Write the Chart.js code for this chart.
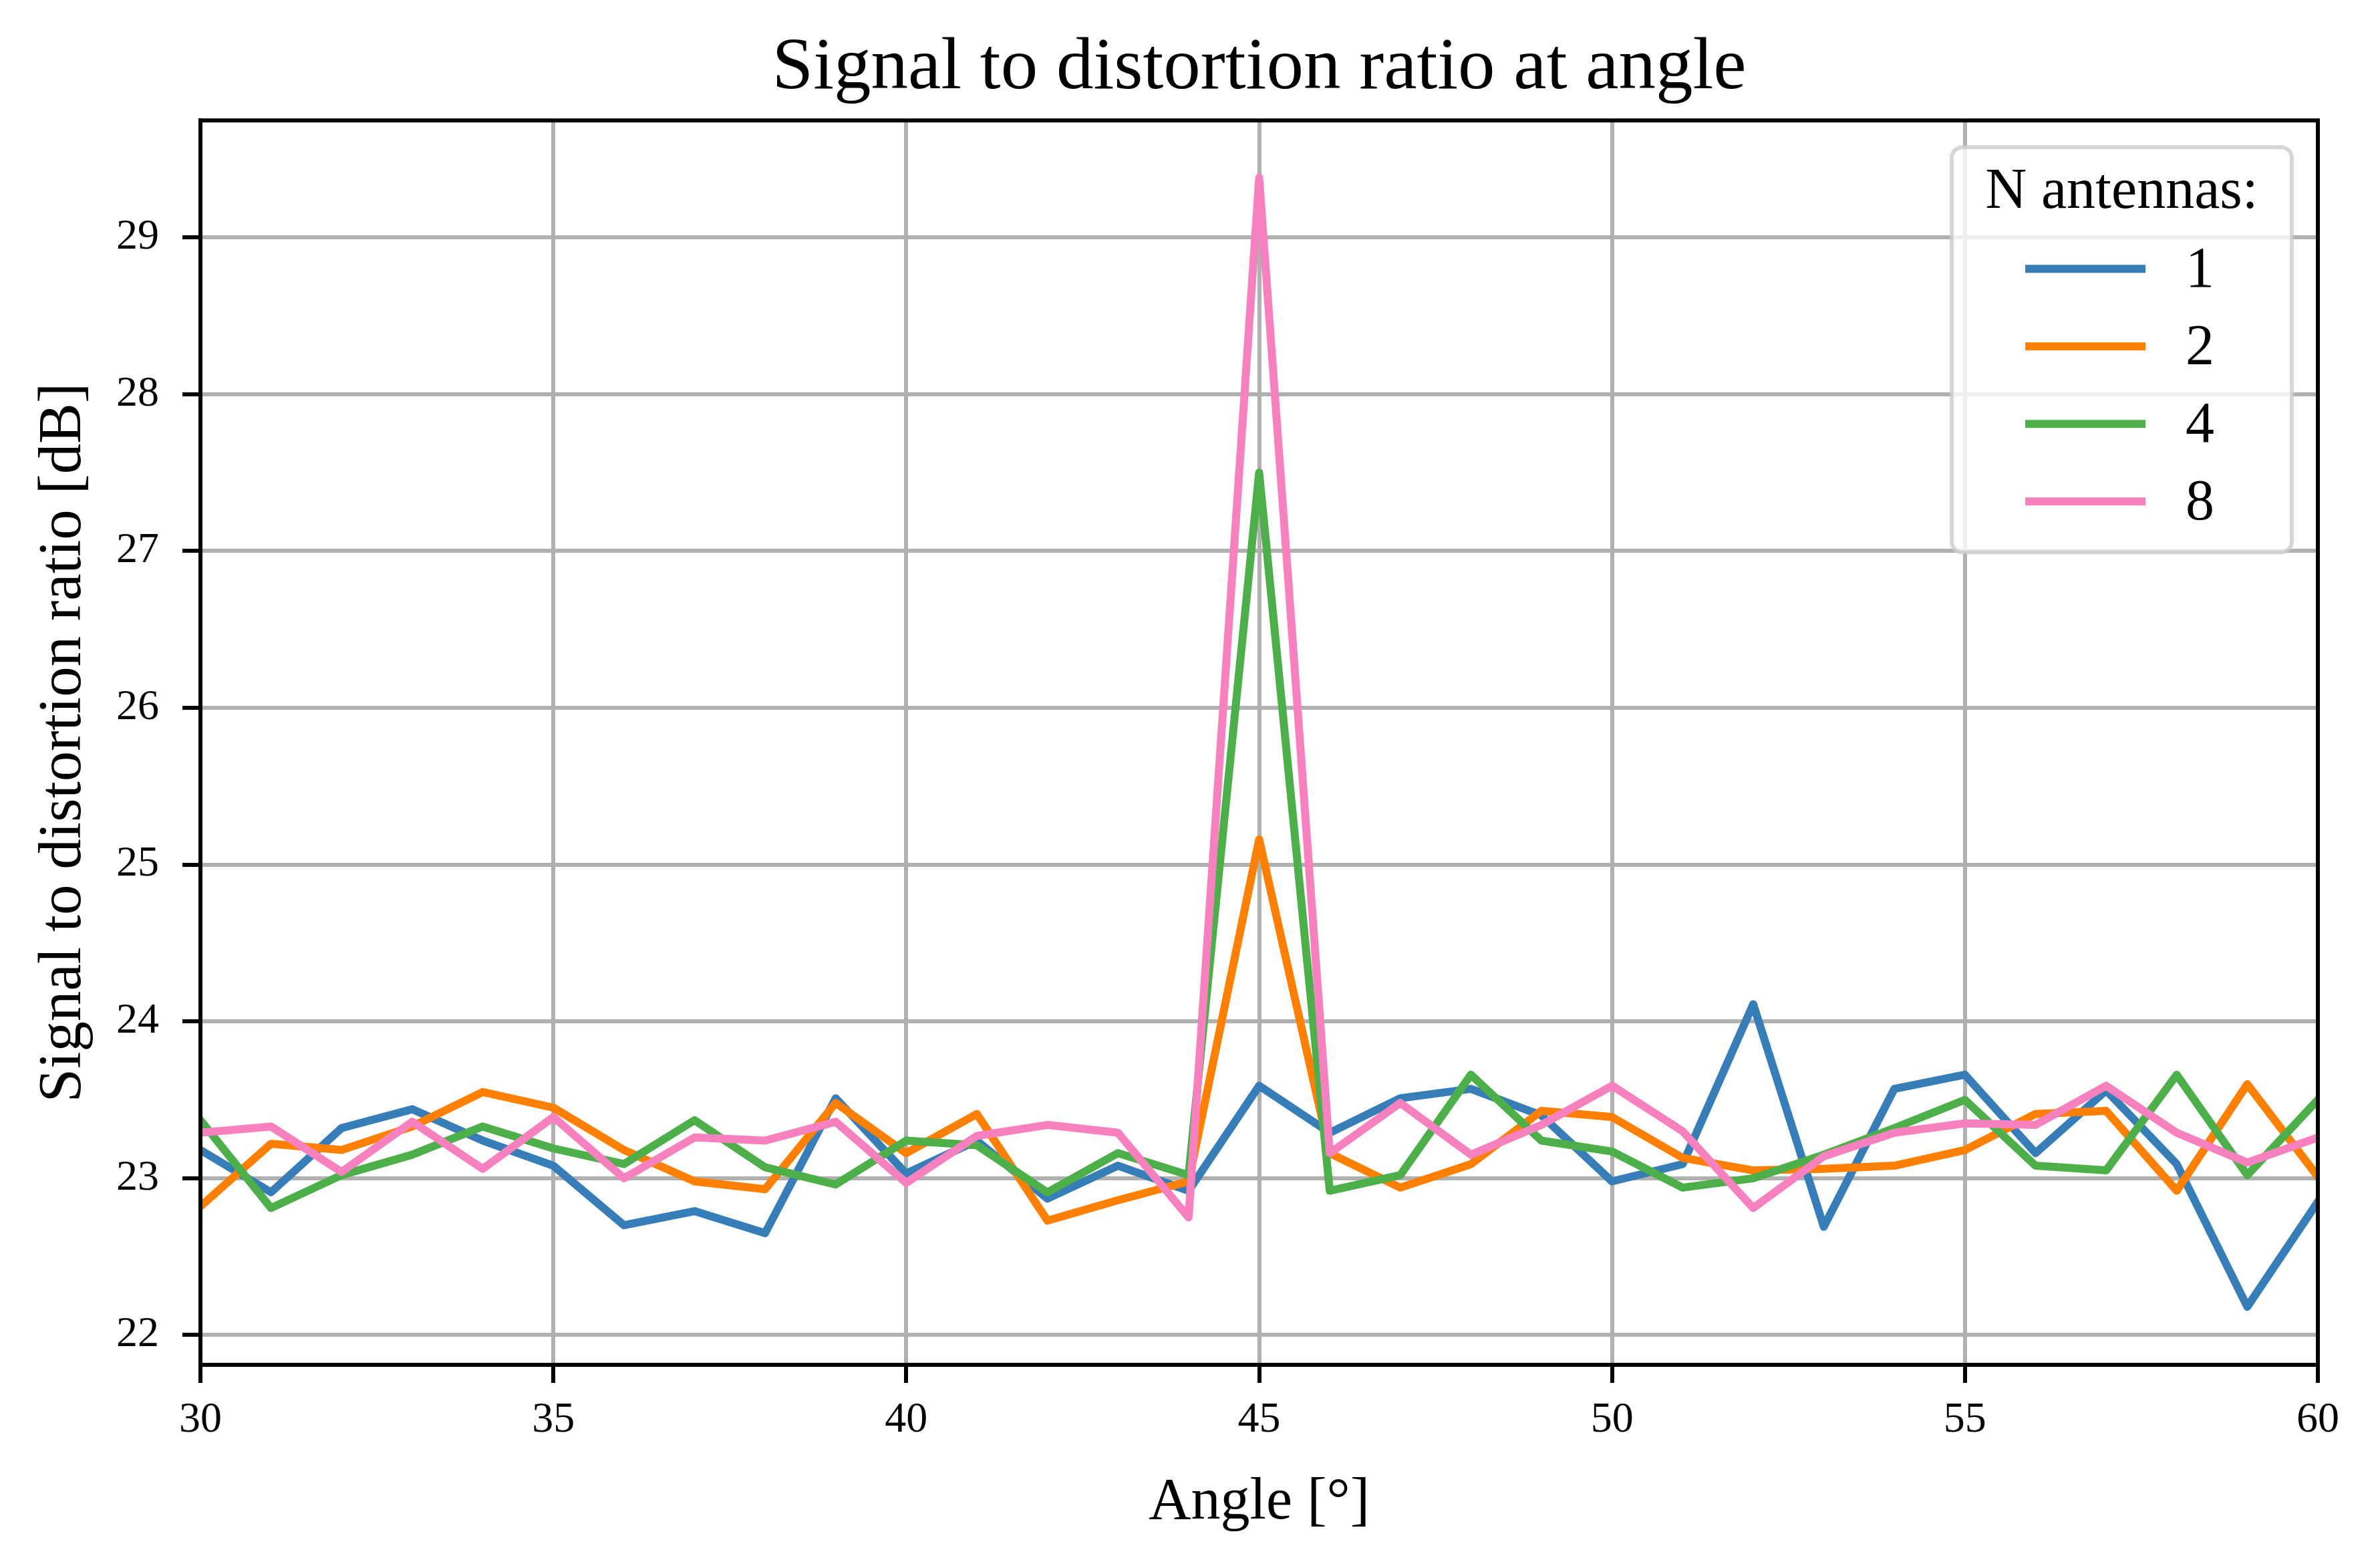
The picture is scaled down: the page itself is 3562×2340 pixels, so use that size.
<!DOCTYPE html>
<html>
<head>
<meta charset="utf-8">
<script src="https://cdn.jsdelivr.net/npm/chart.js@4.4.1/dist/chart.umd.min.js"></script>
<style>
  html, body { margin: 0; padding: 0; background: #ffffff; }
  #c { display: block; }
</style>
</head>
<body>
<canvas id="c" width="3562" height="2340" style="width:3562px;height:2340px"></canvas>
<script>
// ---- data ----
const angles = [30,31,32,33,34,35,36,37,38,39,40,41,42,43,44,45,46,47,48,49,50,51,52,53,54,55,56,57,58,59,60];
const sdr1 = [23.18,22.91,23.32,23.44,23.24,23.08,22.70,22.79,22.65,23.51,23.03,23.24,22.87,23.08,22.92,23.59,23.29,23.51,23.57,23.40,22.98,23.09,24.11,22.69,23.57,23.66,23.16,23.56,23.09,22.18,22.85];
const sdr2 = [22.82,23.22,23.18,23.33,23.55,23.45,23.18,22.98,22.93,23.48,23.16,23.41,22.73,22.86,22.98,25.16,23.16,22.94,23.09,23.43,23.39,23.13,23.05,23.06,23.08,23.18,23.41,23.43,22.92,23.60,23.01];
const sdr4 = [23.37,22.81,23.02,23.15,23.33,23.19,23.09,23.37,23.07,22.96,23.24,23.21,22.91,23.16,23.02,27.50,22.92,23.02,23.66,23.24,23.17,22.94,23.00,23.15,23.32,23.50,23.08,23.05,23.66,23.02,23.50];
const sdr8 = [23.29,23.33,23.04,23.36,23.06,23.39,23.00,23.26,23.24,23.36,22.97,23.27,23.34,23.29,22.75,29.38,23.16,23.48,23.15,23.34,23.59,23.30,22.81,23.14,23.29,23.35,23.34,23.59,23.29,23.10,23.26];
const seriesLabels = ['1','2','4','8'];
const xTicks = [30,35,40,45,50,55,60];
const yTicks = [22,23,24,25,26,27,28,29];
const titleText = 'Signal to distortion ratio at angle';
const xLabel = 'Angle [°]';
const yLabel = 'Signal to distortion ratio [dB]';
const legendTitle = 'N antennas:';

// ---- styling ----
const colors = ['#377eb8', '#ff7f00', '#4daf4a', '#f781bf'];
const FONT = "'Liberation Serif', 'Times New Roman', serif";
Chart.defaults.font.family = FONT;
Chart.defaults.color = '#000000';

const seriesValues = [sdr1, sdr2, sdr4, sdr8];
const datasets = seriesValues.map((vals, i) => ({
  label: seriesLabels[i],
  data: angles.map((a, k) => ({x: a, y: vals[k]})),
  borderColor: colors[i],
  backgroundColor: colors[i],
  borderWidth: 12,
  pointRadius: 0,
  pointHoverRadius: 0,
  tension: 0,
  fill: false,
  borderJoinStyle: 'round',
  borderCapStyle: 'square',
  clip: 0,
  order: seriesValues.length - 1 - i
}));

const framePlugin = {
  id: 'frame',
  afterDatasetsDraw(chart) {
    const {ctx, chartArea: a} = chart;
    ctx.save();
    ctx.strokeStyle = '#000000';
    ctx.lineWidth = 6;
    ctx.lineCap = 'square';
    ctx.strokeRect(a.left, a.top, a.right - a.left, a.bottom - a.top);
    ctx.restore();
  }
};

function roundRect(ctx, x, y, w, h, r) {
  ctx.beginPath();
  ctx.moveTo(x + r, y);
  ctx.lineTo(x + w - r, y);
  ctx.arcTo(x + w, y, x + w, y + r, r);
  ctx.lineTo(x + w, y + h - r);
  ctx.arcTo(x + w, y + h, x + w - r, y + h, r);
  ctx.lineTo(x + r, y + h);
  ctx.arcTo(x, y + h, x, y + h - r, r);
  ctx.lineTo(x, y + r);
  ctx.arcTo(x, y, x + r, y, r);
  ctx.closePath();
}

const innerLegend = {
  id: 'innerLegend',
  afterDraw(chart) {
    const {ctx, chartArea: a} = chart;
    const boxR = a.right - 39;
    const boxW = 509;
    const boxL = boxR - boxW;
    const boxT = a.top + 40;
    const boxH = 606;
    ctx.save();
    roundRect(ctx, boxL, boxT, boxW, boxH, 16);
    ctx.fillStyle = 'rgba(255,255,255,0.8)';
    ctx.fill();
    ctx.strokeStyle = 'rgba(204,204,204,0.8)';
    ctx.lineWidth = 6;
    ctx.stroke();

    ctx.fillStyle = '#000000';
    ctx.font = '86px ' + FONT;
    ctx.textAlign = 'center';
    ctx.textBaseline = 'middle';
    ctx.fillText(legendTitle, boxL + boxW / 2, boxT + 68);

    chart.data.datasets.forEach((ds, i) => {
      const y = boxT + 182 + i * 116;
      ctx.strokeStyle = ds.borderColor;
      ctx.lineWidth = 12;
      ctx.lineCap = 'butt';
      ctx.beginPath();
      ctx.moveTo(boxL + 110, y);
      ctx.lineTo(boxL + 290, y);
      ctx.stroke();
      ctx.fillStyle = '#000000';
      ctx.textAlign = 'left';
      ctx.fillText(ds.label, boxL + 350, y + 4);
    });
    ctx.restore();
  }
};

new Chart(document.getElementById('c'), {
  type: 'line',
  data: { datasets },
  options: {
    responsive: false,
    animation: false,
    devicePixelRatio: 1,
    layout: { padding: { left: 0, right: 93, top: 0, bottom: 0 } },
    plugins: {
      legend: { display: false },
      tooltip: { enabled: false },
      title: {
        display: true,
        text: titleText,
        fullSize: false,
        color: '#000000',
        font: { family: FONT, size: 111, weight: 'normal', lineHeight: 1.2 },
        padding: { top: 36, bottom: 11 }
      }
    },
    scales: {
      x: {
        type: 'linear',
        min: 30,
        max: 60,
        afterFit(scale) { scale.height = 298; },
        afterBuildTicks(scale) { scale.ticks = xTicks.map(v => ({value: v})); },
        ticks: {
          font: { family: FONT, size: 64 },
          color: '#000000',
          padding: 18,
          maxRotation: 0,
          autoSkip: false
        },
        grid: {
          color: '#b0b0b0',
          lineWidth: 6,
          drawTicks: true,
          tickLength: 27,
          tickColor: '#000000',
          tickWidth: 6
        },
        border: { display: true, color: '#000000', width: 6 },
        title: {
          display: true,
          text: xLabel,
          color: '#000000',
          font: { family: FONT, size: 88, lineHeight: 1.2 },
          padding: { top: 0, bottom: 38 }
        }
      },
      y: {
        type: 'linear',
        min: 21.81,
        max: 29.746,
        afterFit(scale) { scale.width = 300; },
        afterBuildTicks(scale) { scale.ticks = yTicks.map(v => ({value: v})); },
        ticks: {
          font: { family: FONT, size: 64 },
          color: '#000000',
          padding: 35,
          autoSkip: false
        },
        grid: {
          color: '#b0b0b0',
          lineWidth: 6,
          drawTicks: true,
          tickLength: 27,
          tickColor: '#000000',
          tickWidth: 6
        },
        border: { display: true, color: '#000000', width: 6 },
        title: {
          display: true,
          text: yLabel,
          color: '#000000',
          font: { family: FONT, size: 91, lineHeight: 1.2 },
          padding: { top: 41, bottom: 0 }
        }
      }
    }
  },
  plugins: [framePlugin, innerLegend]
});
</script>
</body>
</html>
